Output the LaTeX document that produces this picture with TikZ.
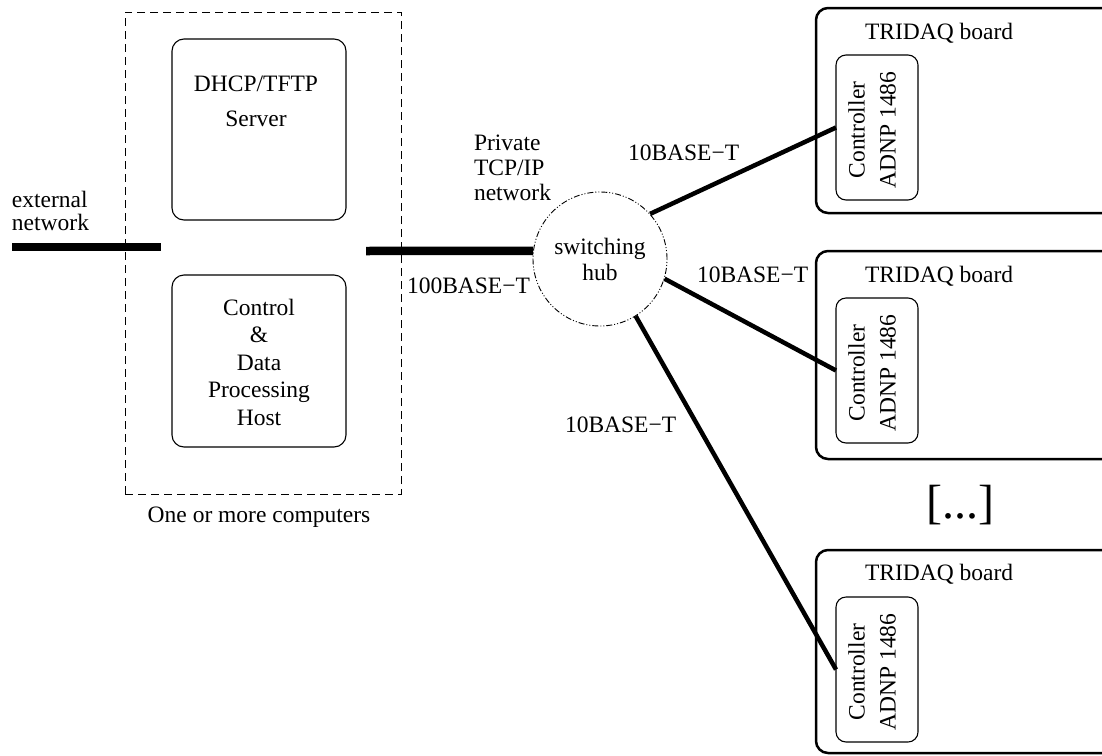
\documentclass[tikz,border=0pt]{standalone}
\usepackage{fontspec}
\setmainfont{Liberation Serif}
\usetikzlibrary{calc}
\begin{document}
\begin{tikzpicture}[x=1pt,y=-1pt,
  txt/.style={font=\fontsize{23.5pt}{27.5pt}\selectfont, inner sep=0pt, outer sep=0pt},
  hostbox/.style={draw, line width=1.1pt, rounded corners=12pt, minimum width=174pt, inner sep=0pt, outer sep=0pt},
  boardbox/.style={draw, line width=2.5pt, rounded corners=12pt, minimum width=320pt, inner sep=0pt, outer sep=0pt},
  ctrlbox/.style={draw, line width=1.1pt, rounded corners=10pt, minimum width=82pt, minimum height=145pt, inner sep=0pt, outer sep=0pt},
  ctrltxt/.style={txt, rotate=90, align=center, font=\fontsize{23.5pt}{31pt}\selectfont},
  fatwire/.style={line width=8.5pt},
  wire/.style={line width=4.5pt},
]
\clip (0,0) rectangle (1102,755);
\fill[white] (0,0) rectangle (1102,755);

% computers group
\node[draw, line width=1pt, dash pattern=on 8pt off 5pt, minimum width=276pt, minimum height=482pt, inner sep=0pt] (group) at (263,253) {};
\node[hostbox, minimum height=181pt] (dhcp) at (259,129.5) {};
\node[hostbox, minimum height=172pt] (host) at (259,361) {};
\node[txt, anchor=base, align=center, font=\fontsize{23.5pt}{35pt}\selectfont] (dhcptxt) at (256,126) {DHCP/TFTP\\Server};
\node[txt, anchor=base, align=center] (hosttxt) at (259,425) {Control\\\&\\Data\\Processing\\Host};
\node[txt, anchor=base] (grouplbl) at (259,522) {One or more computers};

% external network
\node[txt, anchor=base west, align=left, font=\fontsize{23.5pt}{22.5pt}\selectfont] (extlbl) at (12,230) {external\\network};
\coordinate (extL) at (12,247);
\coordinate (extR) at (161,247);
\draw[fatwire] (extL) -- (extR);

% hub
\node[draw, circle, line width=0.9pt, dash pattern=on 6pt off 2pt on 1pt off 2pt on 1pt off 2pt, minimum size=134pt, inner sep=0pt, align=center, font=\fontsize{23.5pt}{26pt}\selectfont] (hub) at (600,259) {switching\\hub};
\node[txt, anchor=base west, align=left, font=\fontsize{23.5pt}{25pt}\selectfont] (private) at (474,200) {Private\\TCP/IP\\network};

\coordinate (hostport) at (366,251);
\draw[fatwire] (hostport) -- (hub.173);
\node[txt, anchor=base west] (l100) at (407,293) {100BASE−T};

% boards
\node[boardbox, minimum height=205pt] (b1) at (976,110.5) {};
\node[boardbox, minimum height=208pt] (b2) at (976,355) {};
\node[boardbox, minimum height=203pt] (b3) at (976,651.5) {};
\node[txt, anchor=base west] (t1) at (865,39) {TRIDAQ board};
\node[txt, anchor=base west] (t2) at (865,282) {TRIDAQ board};
\node[txt, anchor=base west] (t3) at (865,580) {TRIDAQ board};
\node[ctrlbox] (c1) at (877,127.5) {};
\node[ctrlbox] (c2) at (877,370.5) {};
\node[ctrlbox] (c3) at (877,669.5) {};
\node[ctrltxt] (ct1) at ($(c1.center)+(-5,2.5)$) {Controller\\ADNP 1486};
\node[ctrltxt] (ct2) at ($(c2.center)+(-5,2.5)$) {Controller\\ADNP 1486};
\node[ctrltxt] (ct3) at ($(c3.center)+(-5,2.5)$) {Controller\\ADNP 1486};
\node[txt, font=\fontsize{48pt}{50pt}\selectfont] (more) at (960,505) {[...]};

% 10BASE-T links
\draw[wire] (hub.42) -- (c1.west);
\draw[wire] (hub.-17) -- (c2.west);
\draw[wire] (hub.-58) -- (c3.west);
\node[txt, anchor=base west] (l10a) at (628,160) {10BASE−T};
\node[txt, anchor=base west] (l10b) at (697,282) {10BASE−T};
\node[txt, anchor=base west] (l10c) at (565,432) {10BASE−T};
\end{tikzpicture}
\end{document}
